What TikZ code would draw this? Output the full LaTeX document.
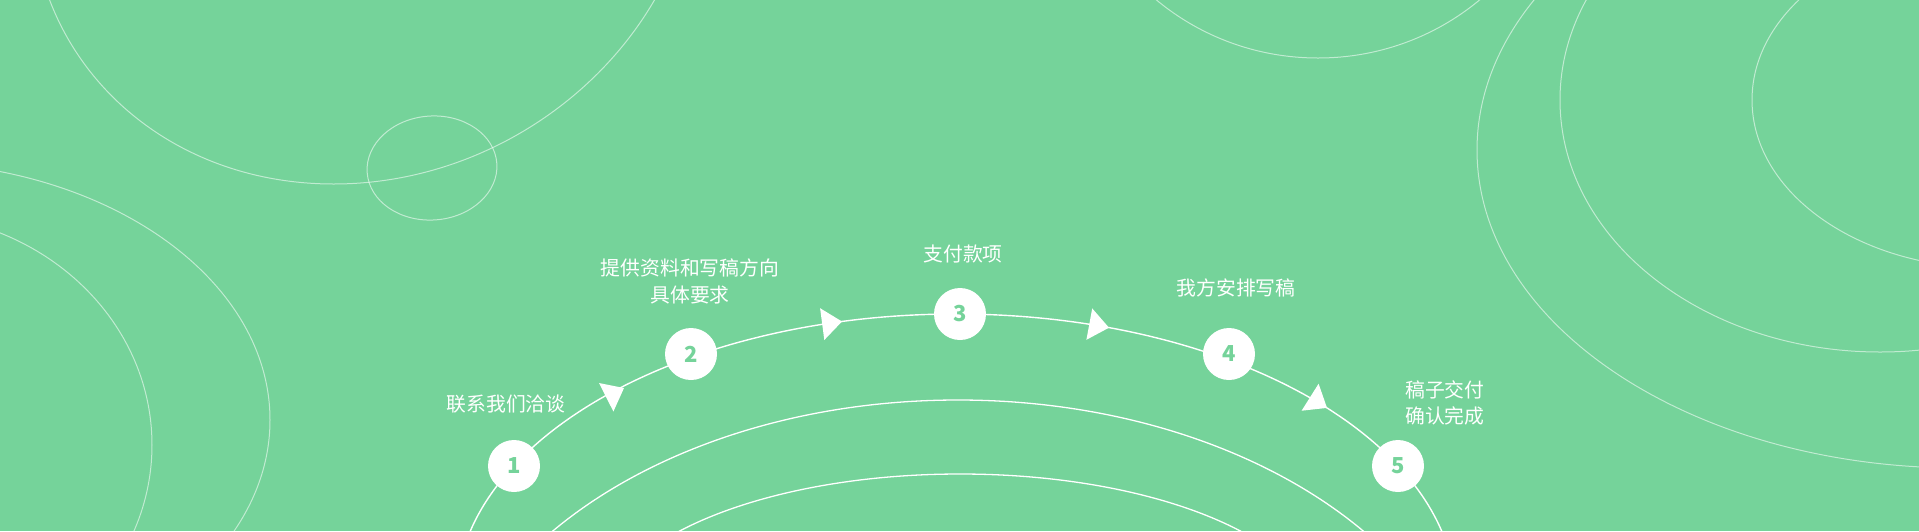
\documentclass[tikz,border=0pt]{standalone}
\usepackage{fontspec}
\setmainfont{Noto Sans CJK SC}
\definecolor{bg}{HTML}{75D39A}
\tikzset{
  faint/.style={draw=white, draw opacity=0.55, line width=1pt},
  mainline/.style={draw=white, line width=1.4pt},
  innerline/.style={draw=white, line width=1.3pt},
  stepdot/.style={circle, fill=white, minimum size=52pt, inner sep=0pt,
    font=\fontsize{22}{22}\selectfont\bfseries, text=bg},
  labeltext/.style={text=white, inner sep=0pt, font=\fontsize{19.8}{27}\selectfont},
  arrowhead/.style={fill=white}
}
\begin{document}
\begin{tikzpicture}[x=1pt,y=-1pt]
\useasboundingbox (0,0) rectangle (1919,531);
\fill[bg] (0,0) rectangle (1919,531);
\clip (0,0) rectangle (1919,531);

% faint background ellipses
\begin{scope}[shift={(365,-129.5)}, xslant=0.1]
  \draw[faint] (0,0) ellipse [x radius=332pt, y radius=313.5pt];
\end{scope}
\draw[faint, rotate around={4:(432,168)}] (432,168) ellipse [x radius=65pt, y radius=52pt];
\draw[faint] (-100,420) ellipse [x radius=370pt, y radius=258pt];
\draw[faint] (-100,445) ellipse [x radius=252pt, y radius=231pt];
\draw[faint] (1318,-187) ellipse [x radius=250pt, y radius=245pt];
\draw[faint] (1960,150) ellipse [x radius=483pt, y radius=318pt];
\draw[faint] (1880,100) ellipse [x radius=320pt, y radius=252pt];
\draw[faint] (1990,100) ellipse [x radius=238pt, y radius=168pt];

% inner concentric arcs
\draw[innerline] (958,751) ellipse [x radius=520pt, y radius=351pt];
\draw[innerline] (960,627) ellipse [x radius=360pt, y radius=153pt];

% main process arc
\draw[mainline] (956,599) ellipse [x radius=500pt, y radius=285pt];

% arrowheads
\fill[arrowhead] (624,388) -- (613.4,411.5) -- (599.0,383) -- cycle;
\fill[arrowhead] (842,321.5) -- (824.3,340.0) -- (820.1,308.2) -- cycle;
\fill[arrowhead] (1109,327.7) -- (1086.4,339.8) -- (1092.2,308.4) -- cycle;
\fill[arrowhead] (1327,407.9) -- (1301.6,410.7) -- (1318.6,383.7) -- cycle;

% step circles
\node[stepdot] (s1) at (514,466) {1};
\node[stepdot] (s2) at (691,354) {2};
\node[stepdot] (s3) at (960,314) {3};
\node[stepdot] (s4) at (1229,354) {4};
\node[stepdot] (s5) at (1398,466) {5};

% labels
\node[labeltext] (t1) at (506,404) {联系我们洽谈};
\node[labeltext, align=center] (t2) at (690,281.5) {提供资料和写稿方向\\具体要求};
\node[labeltext] (t3) at (963,253.5) {支付款项};
\node[labeltext] (t4) at (1236,288) {我方安排写稿};
\node[labeltext, align=left, anchor=west, font=\fontsize{19.8}{26}\selectfont] (t5) at (1405,402.5) {稿子交付\\确认完成};
\end{tikzpicture}
\end{document}
